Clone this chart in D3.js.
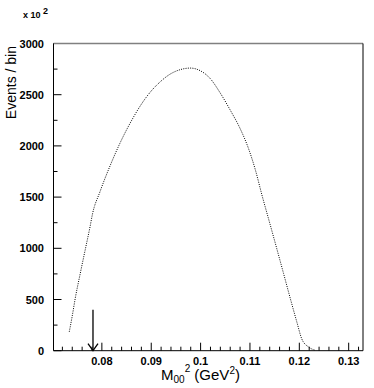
<!DOCTYPE html>
<html>
<head>
<meta charset="utf-8">
<script src="https://cdn.jsdelivr.net/npm/d3@7"></script>
<style>
  body { margin: 0; background: #fff; }
  text { font-family: "Liberation Sans", Arial, Helvetica, sans-serif; }
</style>
</head>
<body>
<svg id="chart"></svg>
<script>
// M00^2 values (GeV^2)
var mass = [0.0734, 0.0740, 0.0746, 0.0756, 0.0766, 0.0776, 0.0781, 0.0796, 0.0817, 0.0837,
            0.0861, 0.0877, 0.0898, 0.0918, 0.0938, 0.0959, 0.0979, 0.0999, 0.1019, 0.1040,
            0.1060, 0.1080, 0.1097, 0.1111, 0.1124, 0.1141, 0.1155, 0.1168, 0.1182, 0.1195,
            0.1205, 0.1219, 0.1232];
// events per bin (x 10^2)
var events = [185, 340, 510, 750, 980, 1210, 1335, 1550, 1810, 2030,
              2255, 2385, 2525, 2625, 2700, 2745, 2760, 2735, 2660, 2515,
              2350, 2170, 1975, 1765, 1525, 1230, 985, 755, 505, 280,
              115, 35, 5];
var xTickLabels = [0.08, 0.09, 0.1, 0.11, 0.12, 0.13];
var yTickLabels = [0, 500, 1000, 1500, 2000, 2500, 3000];
// threshold arrow: position and height
var arrowX = 0.0782;
var arrowTop = 400;

var width = 374, height = 388;
var padL = 53.5, padR = 363, padT = 43.5, padB = 350.7;

var svg = d3.select("#chart")
    .attr("width", width)
    .attr("height", height);

var x = d3.scaleLinear().domain([0.0702, 0.1329]).range([padL, padR]);
var y = d3.scaleLinear().domain([0, 3000]).range([padB, padT]);

// x ticks (minor every 0.002, major every 0.01)
var xMinor = d3.range(0.072, 0.1329, 0.002);
svg.selectAll(".xtick")
    .data(xMinor)
    .enter().append("line")
    .attr("x1", function(d) { return x(d); })
    .attr("x2", function(d) { return x(d); })
    .attr("y1", padB)
    .attr("y2", function(d) {
        var major = Math.abs(Math.round(d * 100) - d * 100) < 1e-6;
        return padB - (major ? 8 : 4);
    })
    .style("stroke", "#000")
    .style("stroke-width", 1);

// y ticks (minor every 250, major every 500)
svg.selectAll(".ytick")
    .data(d3.range(0, 3001, 250))
    .enter().append("line")
    .attr("x1", padL)
    .attr("x2", function(d) { return padL + (d % 500 === 0 ? 8 : 4); })
    .attr("y1", function(d) { return y(d); })
    .attr("y2", function(d) { return y(d); })
    .style("stroke", "#000")
    .style("stroke-width", 1);

// frame
svg.append("line").attr("x1", padL).attr("x2", padR).attr("y1", padT).attr("y2", padT)
    .style("stroke", "#808080").style("stroke-width", 1.5);
svg.append("path")
    .attr("d", "M" + padL + "," + padT + "V" + padB + "H" + padR + "V" + padT)
    .style("fill", "none")
    .style("stroke", "#000")
    .style("stroke-width", 1);

// tick labels
svg.selectAll(".xlabel")
    .data(xTickLabels)
    .enter().append("text")
    .attr("x", function(d) { return x(d); })
    .attr("y", 365)
    .attr("text-anchor", "middle")
    .style("font-size", "11px")
    .style("font-weight", "bold")
    .text(function(d) { return d; });

svg.selectAll(".ylabel")
    .data(yTickLabels)
    .enter().append("text")
    .attr("x", 44)
    .attr("y", function(d) { return y(d) + 4; })
    .attr("text-anchor", "end")
    .style("font-size", "11px")
    .style("font-weight", "bold")
    .text(function(d) { return d; });

// exponent
var expo = svg.append("text")
    .attr("x", 23)
    .attr("y", 18)
    .style("font-size", "9px")
    .style("font-weight", "bold");
expo.append("tspan").text("x 10\u00a0");
expo.append("tspan").attr("dy", -4).text("2");

// distribution drawn as a dotted curve
var pts = mass.map(function(m, i) { return [m, events[i]]; });
var line = d3.line()
    .x(function(d) { return x(d[0]); })
    .y(function(d) { return y(d[1]); })
    .curve(d3.curveMonotoneX);
svg.append("path")
    .datum(pts)
    .attr("d", line)
    .style("fill", "none")
    .style("stroke", "#000")
    .style("stroke-width", 1)
    .style("stroke-dasharray", "1,1.3");

// arrow at threshold
svg.append("line")
    .attr("x1", x(arrowX)).attr("x2", x(arrowX))
    .attr("y1", y(arrowTop)).attr("y2", y(0))
    .style("stroke", "#000").style("stroke-width", 1.3);
svg.append("path")
    .attr("d", "M" + (x(arrowX) - 5) + "," + (y(0) - 7) + "L" + x(arrowX) + "," + y(0) +
               "L" + (x(arrowX) + 5) + "," + (y(0) - 7))
    .style("fill", "none").style("stroke", "#000").style("stroke-width", 1.3);

// axis titles
svg.append("text")
    .attr("transform", "translate(16," + 46 + ") rotate(-90)")
    .attr("text-anchor", "end")
    .style("font-size", "14px")
    .text("Events / bin");

var xt = svg.append("text")
    .attr("x", 161)
    .attr("y", 380)
    .style("font-size", "15px");
xt.append("tspan").text("M");
xt.append("tspan").attr("dy", 3).style("font-size", "10px").text("00");
xt.append("tspan").attr("dy", -11).style("font-size", "10px").text("2");
xt.append("tspan").attr("dy", 8).text("\u00a0(GeV");
xt.append("tspan").attr("dy", -6).style("font-size", "10px").text("2");
xt.append("tspan").attr("dy", 6).text(")");
</script>
</body>
</html>
